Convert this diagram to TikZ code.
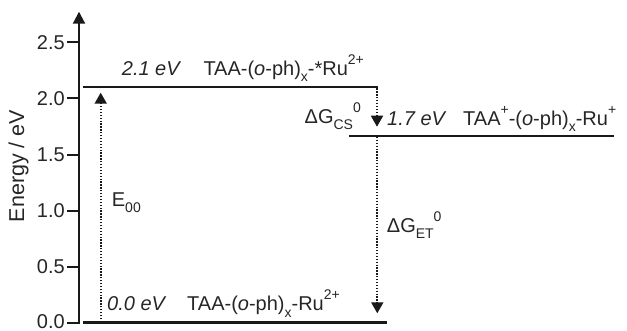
\documentclass[tikz,border=0pt]{standalone}
\usepackage{fontspec}
\setmainfont{Liberation Sans}
\usetikzlibrary{arrows.meta}
\newcommand\lowsub[1]{\raisebox{-0.3em}{\fontsize{14}{14}\selectfont #1}}
\newcommand\highsup[1]{\raisebox{0.55em}{\fontsize{14}{14}\selectfont #1}}
\begin{document}
\begin{tikzpicture}[x=1pt,y=-1pt,
  every node/.style={font=\fontsize{20}{24}\selectfont, text=black!85, inner sep=0pt},
  level/.style={line width=2.4pt, black!90},
  axisline/.style={line width=2pt, black!90},
  transfer/.style={line width=1.8pt, black!90, dash pattern=on 1.3pt off 1.6pt,
    -{Triangle[length=11pt,width=12pt]}},
]
\useasboundingbox (0,0) rectangle (627,331);

% axis
\coordinate (ax0) at (79,324);
\coordinate (axtop) at (79,11.7);
\draw[axisline,-{Triangle[length=12pt,width=12pt]}] (ax0) -- (axtop);
\foreach \v/\y/\ly [count=\i] in {0.0/322.7/321.2, 0.5/266.7/266.7, 1.0/210.7/210.7, 1.5/154.7/154.7, 2.0/98.3/98.3, 2.5/42.3/42.3}{
  \coordinate (tk\i) at (79,\y);
  \draw[axisline] (tk\i) -- ++(-12,0);
  \node[anchor=east] (tl\i) at (65,\ly) {\v};
}
\node[rotate=90, font=\fontsize{21.5}{24}\selectfont] (ylab) at (18.5,166) {Energy / eV};

% levels
\coordinate (g0) at (83,322.7);   \coordinate (g1) at (386.7,322.7);
\coordinate (s0) at (83.3,87.3);  \coordinate (s1) at (378,87.3);
\coordinate (c0) at (349,136);    \coordinate (c1) at (614,136);
\draw[level] (g0) -- (g1);
\draw[level] (s0) -- (s1);
\draw[level] (c0) -- (c1);

% transitions
\coordinate (e0) at (100.7,322);  \coordinate (e1) at (100.7,92.7);
\coordinate (cs0) at (377,88.5);  \coordinate (cs1) at (377,126.7);
\coordinate (et0) at (377.3,137); \coordinate (et1) at (377.3,313.3);
\draw[transfer] (e0) -- (e1);
\draw[transfer] (cs0) -- (cs1);
\draw[transfer] (et0) -- (et1);

% labels
\node[anchor=base west] (sE) at (121.7,76) {\itshape 2.1 eV};
\node[anchor=base west] (sN) at (203.3,76) {TAA-(\textit{o}-ph)\lowsub{x}-*Ru\highsup{2+}};
\node[anchor=base west] (cE) at (387,126) {\itshape 1.7 eV};
\node[anchor=base west] (cN) at (463,126) {TAA\highsup{+}-(\textit{o}-ph)\lowsub{x}-Ru\highsup{+}};
\node[anchor=base west] (gE) at (107,311) {\itshape 0.0 eV};
\node[anchor=base west] (gN) at (187,311) {TAA-(\textit{o}-ph)\lowsub{x}-Ru\highsup{2+}};
\node[anchor=base east] (dgcs) at (361,124) {ΔG\lowsub{CS}\highsup{0}};
\node[anchor=base west] (e00) at (111.7,207) {E\lowsub{00}};
\node[anchor=base west] (dget) at (386.7,233) {ΔG\lowsub{ET}\highsup{0}};
\end{tikzpicture}
\end{document}
